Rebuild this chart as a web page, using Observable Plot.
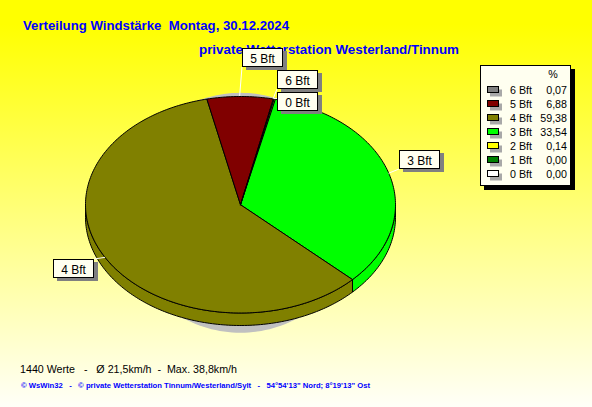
<!DOCTYPE html>
<html><head><meta charset="utf-8">
<script src="https://cdn.jsdelivr.net/npm/d3@7"></script>
<script src="https://cdn.jsdelivr.net/npm/@observablehq/plot@0.6"></script>
<style>
html,body{margin:0;padding:0;width:592px;height:407px;overflow:hidden;}
body{background:linear-gradient(to bottom,#ffff00 0%,#ffff00 6%,#fffff8 100%);}
#chart{position:relative;width:592px;height:407px;}
svg text{font-family:"Liberation Sans",Arial,sans-serif;white-space:pre;}
</style></head><body><div id="chart"></div><script>
// ---- data ----
const categories = ["0 Bft","1 Bft","2 Bft","3 Bft","4 Bft","5 Bft","6 Bft"];
const percents   = [0.00, 0.00, 0.14, 33.54, 59.38, 6.88, 0.07];
const sliceColors = ["#ffffff","#008000","#ffff00","#00ff00","#808000","#800000","#808080"];
const legendOrder = ["6 Bft","5 Bft","4 Bft","3 Bft","2 Bft","1 Bft","0 Bft"];
const labeledCategories = ["5 Bft","6 Bft","0 Bft","3 Bft","4 Bft"];
const titleText = "Verteilung Windstärke  Montag, 30.12.2024";
const subtitleText = "private Wetterstation Westerland/Tinnum";
const statsText = "1440 Werte   -   Ø 21,5km/h  -  Max. 38,8km/h";
const footerText = "© WsWin32   -   © private Wetterstation Tinnum/Westerland/Sylt   -   54°54'13\" Nord; 8°19'13\" Ost";
const legendHeader = "%";

// ---- layout ----
const startAngle = 12.5;          // degrees clockwise from top
const depth = 12.5/108.25;        // side height in y units
const labelOffsets = {"5 Bft":[2,-48],"6 Bft":[4,-28.5],"0 Bft":[3.5,-6.6],"3 Bft":[10.5,-22.8],"4 Bft":[-52,1.5]};
const boxW = 41, boxH = 19;

const total = d3.sum(percents);
let cum = 0;
const slices = categories.map((c,i)=>{
  const a0 = startAngle + cum/total*360;
  cum += percents[i];
  const a1 = startAngle + cum/total*360;
  return {key:c, color:sliceColors[i], a0, a1, pct:percents[i]};
});
const rad = d => d*Math.PI/180;
function arc(a0,a1,dy=0){
  const n = Math.max(1, Math.ceil((a1-a0)/1));
  const pts = [];
  for (let k=0;k<=n;k++){ const a=a0+(a1-a0)*k/n; pts.push({x:Math.sin(rad(a)), y:Math.cos(rad(a))+dy}); }
  return pts;
}
const drawn = slices.filter(s=>s.pct>0);
const topPts = [];
drawn.forEach(s=>{
  topPts.push({key:s.key,color:s.color,x:0,y:0});
  arc(s.a0,s.a1).forEach(p=>topPts.push({key:s.key,color:s.color,...p}));
  topPts.push({key:s.key,color:s.color,x:0,y:0});
});
const sidePts = [];
drawn.forEach(s=>{
  for (const sh of [-360,0,360]){
    const lo = Math.max(s.a0+sh,90), hi = Math.min(s.a1+sh,270);
    if (hi>lo){
      const key = s.key+"_"+sh;
      const top = arc(lo,hi), bot = arc(lo,hi,-depth).reverse();
      [...top,...bot,top[0]].forEach(p=>sidePts.push({key,color:s.color,...p}));
    }
  }
});
const shadowPts = d3.range(0,361,2).map(a=>({x:0.774*Math.sin(rad(a)), y:-0.074+1.108*Math.cos(rad(a))}));

const plot = Plot.plot({
  width:592, height:407, margin:0,
  style:{background:"transparent"},
  x:{domain:[-1,1], range:[85,395], axis:null},
  y:{domain:[-1,1], range:[312.5,96], axis:null},
  color:{type:"identity"},
  marks:[
    Plot.line(shadowPts,{x:"x",y:"y",fill:"#c0c0c0",stroke:"none"}),
    Plot.line(sidePts,{x:"x",y:"y",z:"key",fill:"color",stroke:"#000",strokeWidth:1,strokeLinejoin:"miter"}),
    Plot.line(topPts,{x:"x",y:"y",z:"key",fill:"color",stroke:"#000",strokeWidth:1,strokeLinejoin:"miter"})
  ]
});
document.getElementById("chart").appendChild(plot);
const svg = d3.select(plot);
const sx = plot.scale("x"), sy = plot.scale("y");

// labels
const g = svg.append("g").attr("text-anchor","start");
labeledCategories.forEach(c=>{
  const s = slices.find(d=>d.key===c);
  const m = (s.a0+s.a1)/2;
  const ax = sx.apply(Math.sin(rad(m))), ay = sy.apply(Math.cos(rad(m)));
  const [dx,dy] = labelOffsets[c];
  const bx = Math.round(ax+dx), by = Math.round(ay+dy);
  const ex = Math.max(bx, Math.min(bx+boxW, ax)), ey = Math.max(by, Math.min(by+boxH, ay));
  g.append("line").attr("x1",ax).attr("y1",ay).attr("x2",ex).attr("y2",ey).attr("stroke","#fff").attr("stroke-width",1);
  s.box = {bx,by};
});

// titles
const tg = svg.append("g").attr("text-anchor","start");
tg.append("text").attr("x",23).attr("y",30).attr("font-size",13.3).attr("font-weight","bold").attr("fill","#0000ff")
  .attr("textLength",266).attr("lengthAdjust","spacingAndGlyphs").text(titleText);
tg.append("text").attr("x",199).attr("y",54).attr("font-size",13.3).attr("font-weight","bold").attr("fill","#0000ff")
  .attr("textLength",260).attr("lengthAdjust","spacingAndGlyphs").text(subtitleText);

const bg = svg.append("g");
labeledCategories.forEach(c=>{
  const {bx,by} = slices.find(d=>d.key===c).box;
  bg.append("rect").attr("x",bx+4).attr("y",by+3).attr("width",boxW).attr("height",boxH).attr("fill","#808080");
  bg.append("rect").attr("x",bx+0.5).attr("y",by+0.5).attr("width",boxW-1).attr("height",boxH-1).attr("fill","#fffff0").attr("stroke","#000");
  bg.append("text").attr("x",bx+boxW/2).attr("y",by+14.5).attr("text-anchor","middle").attr("font-size",12).attr("fill","#000").text(c);
});

// legend
const lg = svg.append("g").attr("text-anchor","start");
lg.append("rect").attr("x",484).attr("y",69).attr("width",91).attr("height",121).attr("fill","#000");
lg.append("rect").attr("x",480.5).attr("y",65.5).attr("width",90).attr("height",120).attr("fill","#fffff0").attr("stroke","#000");
lg.append("text").attr("x",553).attr("y",78).attr("text-anchor","middle").attr("font-size",10.7).text(legendHeader);
legendOrder.forEach((c,i)=>{
  const idx = categories.indexOf(c);
  const cy = 90 + 14*i;
  lg.append("rect").attr("x",490).attr("y",cy-0.5).attr("width",12).attr("height",7).attr("fill","#a8a8a8");
  lg.append("rect").attr("x",487.5).attr("y",cy-3.5).attr("width",11).attr("height",6).attr("fill",sliceColors[idx]).attr("stroke","#000");
  lg.append("text").attr("x",510).attr("y",cy+3.8).attr("text-anchor","start").attr("font-size",10.7).text(c);
  lg.append("text").attr("x",567).attr("y",cy+3.8).attr("text-anchor","end").attr("font-size",10.7).text(percents[idx].toFixed(2).replace(".",","));
});

// footers
const fg = svg.append("g").attr("text-anchor","start");
fg.append("text").attr("x",20).attr("y",373).attr("font-size",11).attr("fill","#000")
  .attr("textLength",217).attr("lengthAdjust","spacingAndGlyphs").text(statsText);
fg.append("text").attr("x",21).attr("y",388).attr("font-size",8).attr("font-weight","bold").attr("fill","#0000ff")
  .attr("textLength",349).attr("lengthAdjust","spacingAndGlyphs").text(footerText);
</script></body></html>
